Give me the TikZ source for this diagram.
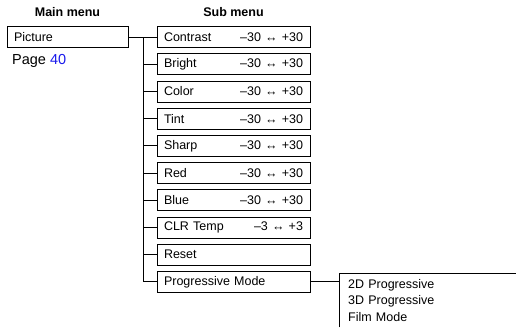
\documentclass[tikz,border=0pt]{standalone}
\usepackage{fontspec}
\setmainfont{Liberation Sans}
\definecolor{pagelink}{RGB}{25,25,235}

\tikzset{
  menubox/.style={draw, line width=0.8pt, minimum height=21pt, inner xsep=0pt, inner ysep=0pt,
    font=\fontsize{12.5}{15}\selectfont},
  mainbox/.style={menubox, minimum width=121pt, text width=107pt},
  subbox/.style={menubox, minimum width=153pt, text width=139pt},
  heading/.style={font=\fontsize{12.5}{15}\selectfont\bfseries},
  link/.style={line width=1pt}
}

\begin{document}
\begin{tikzpicture}[x=1pt,y=-1pt]
  \useasboundingbox (0,0) rectangle (516,327);
  % headings
  \node[heading] (mainhead) at (67.5,12) {Main menu};
  \node[heading] (subhead) at (233.5,12) {Sub menu};
  % main menu
  \node[mainbox] (picture) at (67.5,37) {Picture};
  \node[anchor=west, inner sep=0pt, font=\fontsize{14.5}{17}\selectfont] (page) at (12,61)
    {Page \textcolor{pagelink}{40}};
  % sub menu
  \foreach \nm/\lbl/\rng [count=\i from 0] in {contrast/Contrast/{–30 ↔ +30},
      bright/Bright/{–30 ↔ +30}, color/Color/{–30 ↔ +30}, tint/Tint/{–30 ↔ +30},
      sharp/Sharp/{–30 ↔ +30}, red/Red/{–30 ↔ +30}, blue/Blue/{–30 ↔ +30},
      clrtemp/CLR Temp/{–3 ↔ +3}, reset/Reset/{}, progressive/Progressive Mode/{}}
    \node[subbox] (\nm) at (233.5,{37+27.2*\i}) {\lbl\hfill\rng};
  % connectors
  \coordinate (trunk) at (143,37);
  \draw[link] (picture) -- (contrast);
  \draw[link] (trunk) -- (trunk |- progressive.west) -- (progressive.west);
  \foreach \nm in {bright,color,tint,sharp,red,blue,clrtemp,reset}
    \draw[link] (trunk |- \nm.west) -- (\nm.west);
  % progressive mode choices
  \node[anchor=north west, minimum width=177pt, minimum height=54pt, text width=159pt,
    inner xsep=9pt, inner ysep=0pt, align=left, font=\fontsize{12.5}{16.5}\selectfont]
    (modes) at (339,273) {2D Progressive\\3D Progressive\\Film Mode};
  \draw[link] (modes.south west) -- (modes.north west) -- (modes.north east);
  \draw[link] (progressive) -- (progressive -| modes.west);
\end{tikzpicture}
\end{document}
